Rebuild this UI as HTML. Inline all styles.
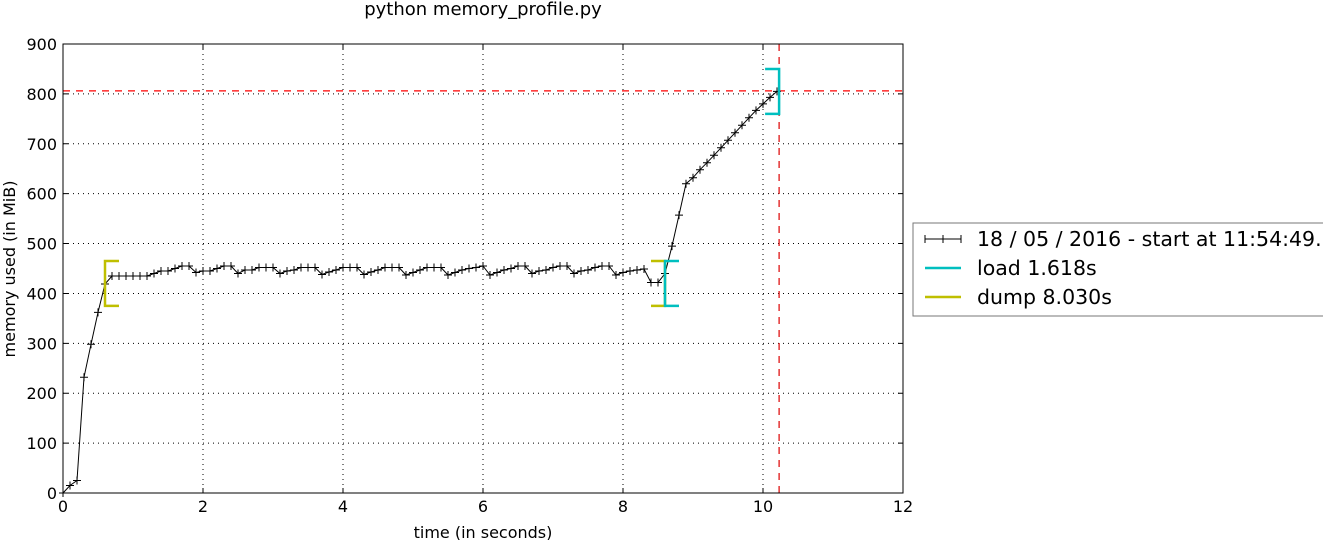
<!DOCTYPE html>
<html><head><meta charset="utf-8"><style>
html,body{margin:0;padding:0;background:#fff;}
svg{display:block;font-family:"DejaVu Sans","Liberation Sans",sans-serif;}
</style></head><body>
<svg id="chart" width="1323" height="540" xmlns="http://www.w3.org/2000/svg">
<text x="483" y="15" font-size="18" text-anchor="middle">python memory_profile.py</text>
<g id="grid"></g>
<g id="ticks"></g>
<g id="marks"></g>
<rect x="63" y="44" width="840" height="449" fill="none" stroke="#000" stroke-width="1"/>
<text x="483" y="538" font-size="16" text-anchor="middle">time (in seconds)</text>
<text transform="translate(15,269) rotate(-90)" font-size="16" text-anchor="middle">memory used (in MiB)</text>
<g>
<rect x="913" y="223" width="420" height="93" fill="#fff" stroke="#777" stroke-width="1"/>
<g>
<line x1="925" y1="239" x2="961" y2="239" stroke="#000" stroke-width="1"/>
<path d="M925 235v8M943 235v8M961 235v8" stroke="#000"/>
<text x="977" y="246" font-size="20.5">18 / 05 / 2016 - start at 11:54:49.7</text></g>
<g>
<line x1="925" y1="268" x2="961" y2="268" stroke="#00bfbf" stroke-width="2.5"/>
<text x="977" y="275" font-size="20.5">load 1.618s</text></g>
<g>
<line x1="925" y1="297" x2="961" y2="297" stroke="#bfbf00" stroke-width="2.5"/>
<text x="977" y="304" font-size="20.5">dump 8.030s</text></g>
</g>
</svg>
<script>
const xTicks=[0,2,4,6,8,10,12];
const yTicks=[0,100,200,300,400,500,600,700,800,900];
const memory=[0,15,25,232,298,362,419,435,435,435,435,435,435,440,445,445,450,455,455,442,445,445,450,455,455,440,447,447,452,452,452,440,445,447,452,452,452,438,443,447,452,452,452,438,443,447,452,452,452,437,442,447,452,452,452,437,442,447,450,452,455,437,442,447,450,455,455,440,445,447,452,455,455,440,445,447,452,455,455,437,442,445,447,449,422,422,440,495,557,620,632,648,662,677,692,707,722,737,752,767,780,793,805];
const sampleStep=0.1;
const peakTime=10.23, peakMem=806;
const loadMarks=[{t:8.6,lo:375,hi:465,dir:1},{t:10.23,lo:760,hi:850,dir:-1}];
const dumpMarks=[{t:0.6,lo:375,hi:465,dir:1},{t:8.6,lo:375,hi:465,dir:-1}];
const X=t=>63+t*70, Y=m=>493-m*449/900;
const NS="http://www.w3.org/2000/svg";
function mk(tag,attrs,parent){const e=document.createElementNS(NS,tag);for(const k in attrs)e.setAttribute(k,attrs[k]);parent.appendChild(e);return e;}
const grid=document.getElementById('grid'),ticks=document.getElementById('ticks'),marks=document.getElementById('marks');
xTicks.forEach(v=>{
 if(v>0&&v<12){const g=mk('line',{x1:X(v),x2:X(v),y1:44,y2:493,stroke:'#000','stroke-dasharray':'1,4'},grid);}
 const t=mk('text',{x:X(v),y:512,'font-size':16,'text-anchor':'middle'},ticks);t.textContent=v;
 
 mk('path',{d:`M${X(v)} 493v-5M${X(v)} 44v5`,stroke:'#000'},ticks);
});
yTicks.forEach(v=>{
 if(v>0&&v<900){const g=mk('line',{x1:63,x2:903,y1:Y(v),y2:Y(v),stroke:'#000','stroke-dasharray':'1,4'},grid);}
 const t=mk('text',{x:57,y:Y(v)+6,'font-size':16,'text-anchor':'end'},ticks);t.textContent=v;
 
 mk('path',{d:`M63 ${Y(v)}h5M903 ${Y(v)}h-5`,stroke:'#000'},ticks);
});
const h=mk('line',{x1:63,x2:903,y1:Y(peakMem),y2:Y(peakMem),stroke:'#f00','stroke-dasharray':'7,6','stroke-width':1.2},marks);

const v=mk('line',{x1:X(peakTime),x2:X(peakTime),y1:44,y2:493,stroke:'#d00','stroke-dasharray':'7,6','stroke-width':1.2},marks);

let d='',pm='';
memory.forEach((m,i)=>{const x=X(i*sampleStep),y=Y(m);d+=(i?'L':'M')+x.toFixed(1)+' '+y.toFixed(1);pm+=`M${(x-4).toFixed(1)} ${y.toFixed(1)}h8M${x.toFixed(1)} ${(y-4).toFixed(1)}v8`;});
const ln=mk('path',{d:d,fill:'none',stroke:'#000','stroke-width':1},marks);

const mp=mk('path',{d:pm,stroke:'#000','stroke-width':1},marks);

function bracket(b,color,name){const x=X(b.t),w=14*b.dir;
 const p=mk('path',{d:`M${x+w} ${Y(b.hi)}H${x}V${Y(b.lo)}H${x+w}`,fill:'none',stroke:color,'stroke-width':2.5},marks);
 }
dumpMarks.forEach(b=>bracket(b,'#bfbf00','dump-bracket'));
loadMarks.forEach(b=>bracket(b,'#00bfbf','load-bracket'));
</script>
</body></html>
